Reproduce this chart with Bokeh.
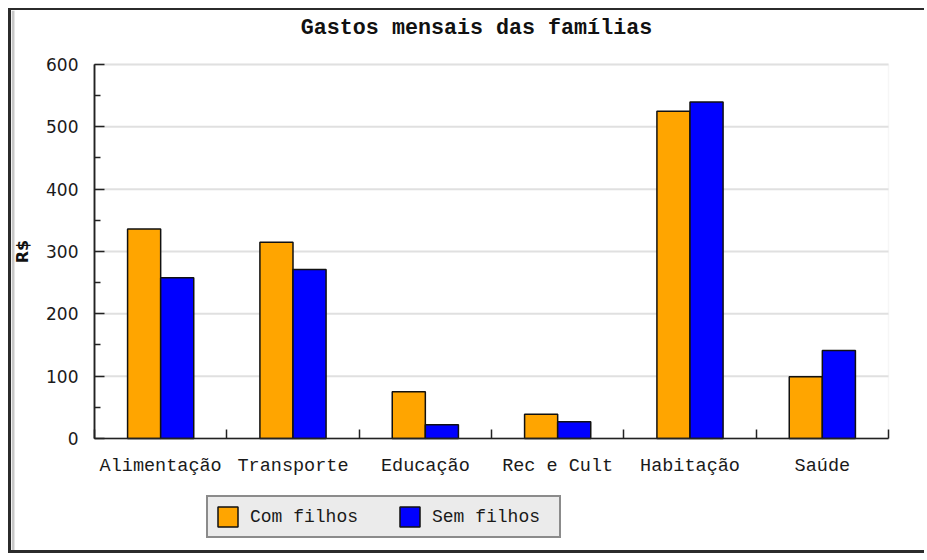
import numpy as np
from bokeh.plotting import figure
from bokeh.models import (FixedTicker, Range1d, Legend, LegendItem, BoxAnnotation, LinearAxis)
from bokeh.core.properties import value
from bokeh.embed import file_html
from bokeh.resources import INLINE

categorias = ["Alimentação", "Transporte", "Educação", "Rec e Cult", "Habitação", "Saúde"]
com_filhos = [336, 315, 75, 39, 525, 99]
sem_filhos = [258, 271, 22, 27, 540, 141]
series_nomes = ["Com filhos", "Sem filhos"]
cores = ["#FFA500", "#0000FF"]
titulo = "Gastos mensais das famílias"
y_rotulo = "R$"
y_ticks = [0, 100, 200, 300, 400, 500, 600]
y_tick_labels = ["0", "100", "200", "300", "400", "500", "600"]
y_minor = [50, 150, 250, 350, 450, 550]
y_max = 600

n = len(categorias)
centros = np.arange(n) + 0.5
limites = list(np.arange(n + 1).astype(float))

# The frame covers the whole canvas; the chart's axes sit at data 0.
# Ranges are chosen so that 0..n spans px 94..888 and 0..600 spans px 438..64.
p = figure(width=916, height=545, output_backend="svg", toolbar_location=None,
           x_range=Range1d(-0.6045, 6.2947), y_range=Range1d(-179.68, 686.63),
           min_border_left=3, min_border_right=0, min_border_top=0, min_border_bottom=5,
           background_fill_alpha=0, border_fill_color="#C8C8C8",
           styles={"margin-left": "8px", "margin-top": "8px",
                   "border-left": "3px solid #2b2b2b", "border-top": "2px solid #2b2b2b",
                   "border-bottom": "3px solid #2b2b2b"})
p.outline_line_color = None
p.xgrid.visible = False
p.ygrid.visible = False

# white plotting area
p.add_layout(BoxAnnotation(left=0, right=n, bottom=0, top=y_max, fill_color="white",
                           fill_alpha=1.0, line_color="#e0e0e0", line_width=1.5, level="image"))

# horizontal grid lines
p.segment(x0=np.zeros(len(y_ticks)), x1=np.full(len(y_ticks), n), y0=y_ticks, y1=y_ticks,
          line_color="#e0e0e0", line_width=2)

r1 = p.vbar(x=centros - 0.125, top=com_filhos, width=0.25, fill_color=cores[0],
            line_color="#111111", line_width=1.5)
r2 = p.vbar(x=centros + 0.125, top=sem_filhos, width=0.25, fill_color=cores[1],
            line_color="#111111", line_width=1.5)

# title
p.text(x=[n / 2], y=[y_max], text=[titulo], text_align="center", text_baseline="middle",
       x_offset=-15, y_offset=-36, text_font=value("Liberation Mono"), text_font_size="21.7px",
       text_font_style="bold", text_color="#111111")

# category labels
p.text(x=centros, y=np.zeros(n), text=categorias, text_align="center", text_baseline="top",
       y_offset=18, text_font=value("Liberation Mono"), text_font_size="18.5px",
       text_color="#1a1a1a")

# value labels on the y axis
p.text(x=np.zeros(len(y_ticks)), y=y_ticks, text=y_tick_labels, text_align="right",
       text_baseline="middle", x_offset=-16, text_font=value("DejaVu Sans"),
       text_font_size="17px", text_color="#1a1a1a")

# y axis title
p.text(x=[0], y=[y_max / 2], text=[y_rotulo], text_align="center", text_baseline="middle",
       angle=np.pi / 2, x_offset=-72, text_font=value("DejaVu Sans"), text_font_size="16px",
       text_font_style="bold", text_color="#111111")

# x axis (ticks between categories, no label texts)
xa = p.xaxis[0]
xa.fixed_location = 0
xa.bounds = (0, n)
xa.ticker = FixedTicker(ticks=[], minor_ticks=limites)
xa.major_tick_line_color = None
xa.major_label_standoff = 0
xa.minor_tick_in = 9
xa.minor_tick_out = 0
xa.minor_tick_line_color = "#222222"
xa.minor_tick_line_width = 1.5
xa.axis_line_color = "#222222"
xa.axis_line_width = 1.5

# y axis: short ticks at the halves
ya = p.yaxis[0]
ya.fixed_location = 0
ya.bounds = (0, y_max)
ya.ticker = FixedTicker(ticks=[], minor_ticks=y_minor)
ya.major_tick_line_color = None
ya.major_label_standoff = 0
ya.minor_tick_in = 6
ya.minor_tick_out = 0
ya.minor_tick_line_color = "#222222"
ya.minor_tick_line_width = 1.5
ya.axis_line_color = "#222222"
ya.axis_line_width = 1.5

# second y axis: long ticks at the labelled values
ya2 = LinearAxis(fixed_location=0, bounds=(0, y_max),
                 ticker=FixedTicker(ticks=[], minor_ticks=y_ticks),
                 major_tick_line_color=None, major_label_standoff=0,
                 minor_tick_in=10, minor_tick_out=0, minor_tick_line_color="#222222",
                 minor_tick_line_width=1.5, axis_line_color="#222222", axis_line_width=1.5)
p.add_layout(ya2, "left")

legend = Legend(items=[LegendItem(label=series_nomes[0], renderers=[r1]),
                       LegendItem(label=series_nomes[1], renderers=[r2])],
                orientation="horizontal", location=(192, 12),
                glyph_width=25, glyph_height=25, label_standoff=10, label_width=120,
                spacing=27, padding=7, margin=0,
                label_text_font="Liberation Mono", label_text_font_size="18px",
                label_text_color="#1a1a1a",
                background_fill_color="#EBEBEB", background_fill_alpha=1.0,
                border_line_color="#2b2b2b", border_line_width=2)
p.add_layout(legend, "center")

open("out.html", "w").write(file_html(p, INLINE))
